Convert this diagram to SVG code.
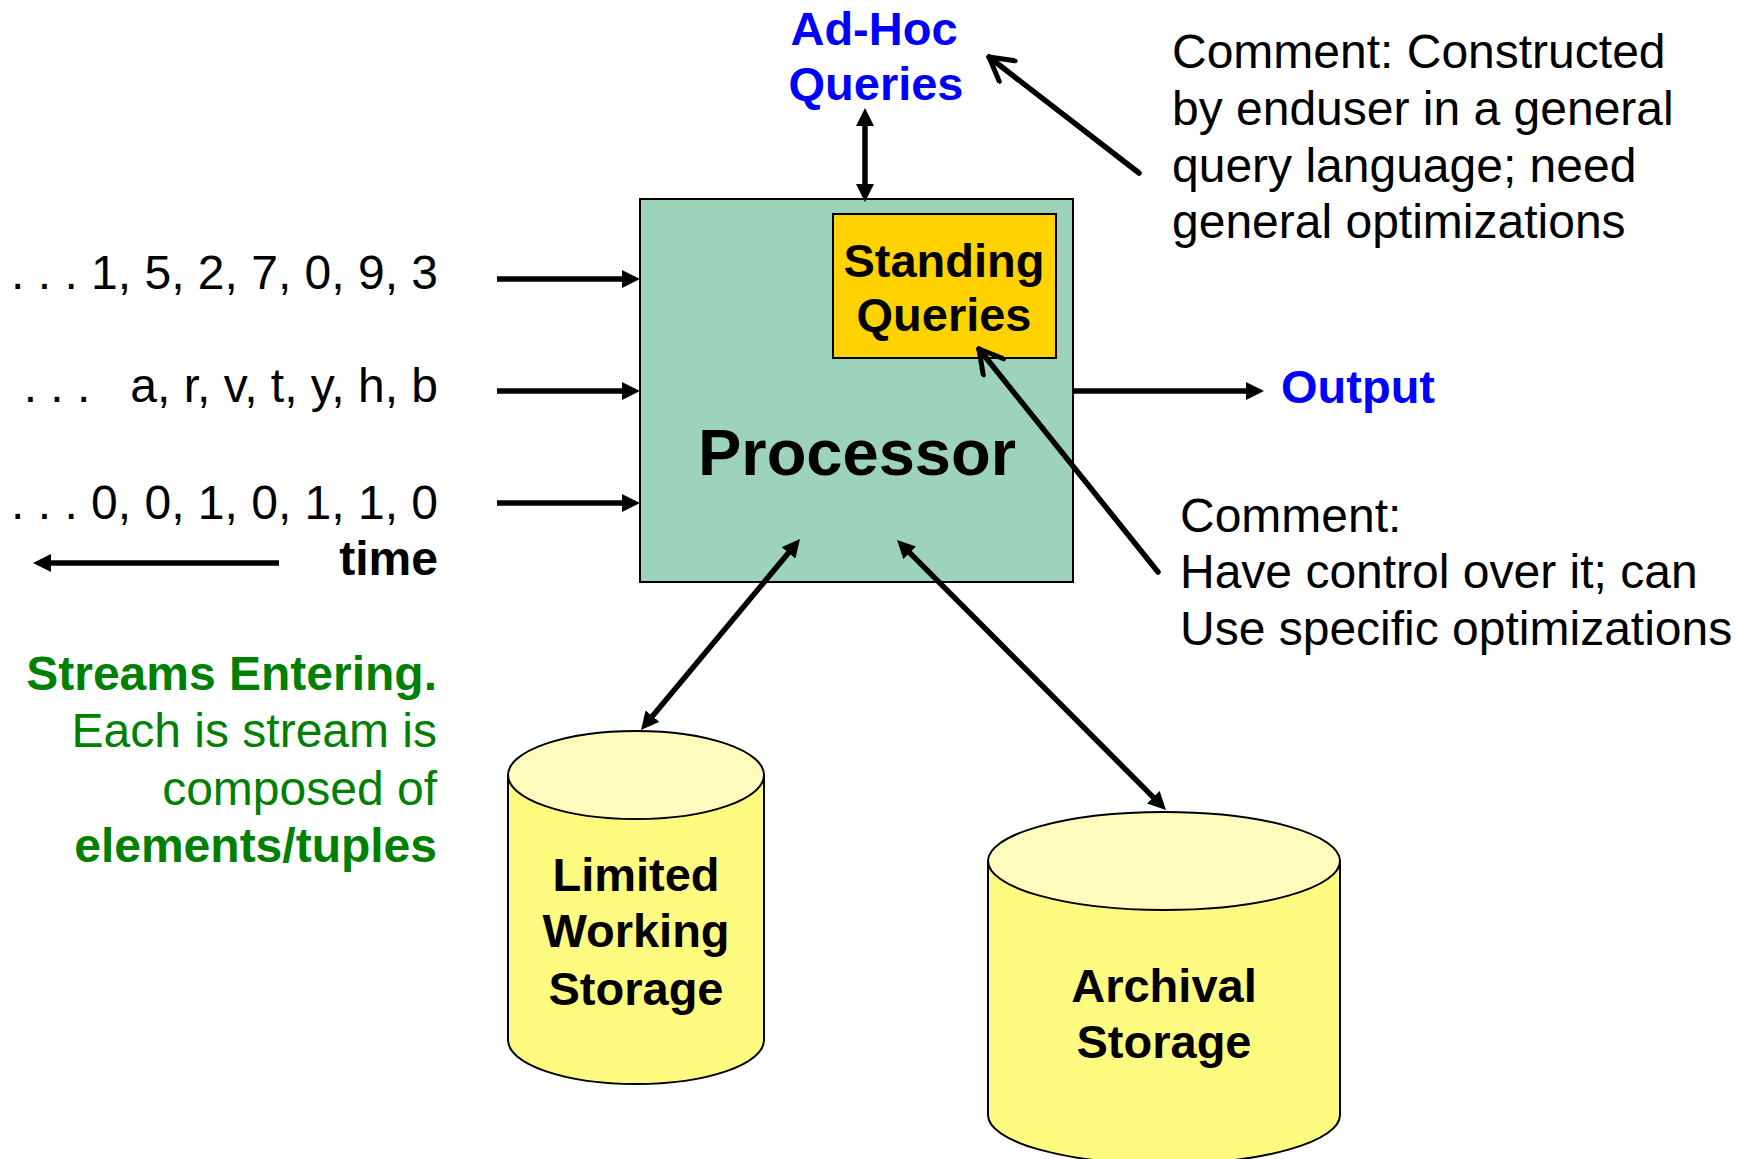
<svg xmlns="http://www.w3.org/2000/svg" width="1751" height="1159" viewBox="0 0 1751 1159">
<style>
  text { font-family: "Liberation Sans", Arial, sans-serif; }
  .b { font-weight: bold; }
  .r48 { font-size: 48px; fill: #000; }
  .blue { fill: #0000FF; font-weight: bold; font-size: 47px; }
  .green { fill: #008000; font-size: 48px; }
  .lbl { font-weight: bold; font-size: 47px; fill: #000; text-anchor: middle; }
  .conn { stroke: #000; stroke-width: 5.5; fill: none; }
  .cylbody { fill: #FFFA80; stroke: #000; stroke-width: 2; }
  .cyltop { fill: #FFFCBE; stroke: #000; stroke-width: 2; }
</style>
<defs>
  <marker id="tri" viewBox="0 0 18 18" refX="8" refY="9" markerWidth="18" markerHeight="18" markerUnits="userSpaceOnUse" orient="auto-start-reverse">
    <path d="M0,0 L18,9 L0,18 Z" fill="#000"/>
  </marker>
  <marker id="open" viewBox="0 0 30 30" refX="26" refY="15" markerWidth="30" markerHeight="30" markerUnits="userSpaceOnUse" orient="auto">
    <path d="M3,2 L26,15 L3,28" fill="none" stroke="#000" stroke-width="5" stroke-linecap="round" stroke-linejoin="round"/>
  </marker>
</defs>
<rect width="1751" height="1159" fill="#fff"/>

<g id="processor">
  <rect x="640" y="199" width="433" height="383" fill="#9DD3BB" stroke="#000" stroke-width="2"/>
  <text x="857" y="475" class="b" font-size="65" text-anchor="middle">Processor</text>
</g>

<g id="standing-queries">
  <rect x="833" y="214" width="223" height="144" fill="#FFD200" stroke="#000" stroke-width="2"/>
  <text x="944" y="277" class="lbl">Standing</text>
  <text x="944" y="331" class="lbl">Queries</text>
</g>

<g id="adhoc-queries">
  <text x="874" y="45" class="blue" text-anchor="middle">Ad-Hoc</text>
  <text x="876" y="100" class="blue" text-anchor="middle">Queries</text>
</g>

<g id="output">
  <text x="1281" y="403" class="blue">Output</text>
</g>

<g id="comment-adhoc">
  <text class="r48" x="1172" y="68">Comment: Constructed</text>
  <text class="r48" x="1172" y="125">by enduser in a general</text>
  <text class="r48" x="1172" y="182">query language; need</text>
  <text class="r48" x="1172" y="238">general optimizations</text>
</g>

<g id="comment-standing">
  <text class="r48" x="1180" y="532">Comment:</text>
  <text class="r48" x="1180" y="588">Have control over it; can</text>
  <text class="r48" x="1180" y="645">Use specific optimizations</text>
</g>

<g id="streams">
  <text class="r48" x="438" y="289" text-anchor="end">. . . 1, 5, 2, 7, 0, 9, 3</text>
  <text class="r48" x="438" y="402" text-anchor="end" xml:space="preserve">. . .   a, r, v, t, y, h, b</text>
  <text class="r48" x="438" y="519" text-anchor="end">. . . 0, 0, 1, 0, 1, 1, 0</text>
  <text class="r48 b" x="438" y="575" text-anchor="end">time</text>
</g>

<g id="streams-note">
  <text class="green b" x="437" y="690" text-anchor="end">Streams Entering.</text>
  <text class="green" x="437" y="747" text-anchor="end">Each is stream is</text>
  <text class="green" x="437" y="805" text-anchor="end">composed of</text>
  <text class="green b" x="437" y="862" text-anchor="end">elements/tuples</text>
</g>

<g id="limited-working-storage">
  <path class="cylbody" d="M508,775 L508,1040 A128,44 0 0 0 764,1040 L764,775 Z"/>
  <ellipse class="cyltop" cx="636" cy="775" rx="128" ry="44"/>
  <text x="636" y="891" class="lbl">Limited</text>
  <text x="636" y="947" class="lbl">Working</text>
  <text x="636" y="1005" class="lbl">Storage</text>
</g>

<g id="archival-storage">
  <path class="cylbody" d="M988,861 L988,1115 A176,49 0 0 0 1340,1115 L1340,861 Z"/>
  <ellipse class="cyltop" cx="1164" cy="861" rx="176" ry="49"/>
  <text x="1164" y="1002" class="lbl">Archival</text>
  <text x="1164" y="1058" class="lbl">Storage</text>
</g>

<g id="connectors">
  <line class="conn" x1="497" y1="279" x2="630" y2="279" marker-end="url(#tri)"/>
  <line class="conn" x1="497" y1="391" x2="630" y2="391" marker-end="url(#tri)"/>
  <line class="conn" x1="497" y1="503" x2="630" y2="503" marker-end="url(#tri)"/>
  <line class="conn" x1="279" y1="563" x2="43" y2="563" marker-end="url(#tri)"/>
  <line class="conn" x1="1073" y1="391" x2="1254" y2="391" marker-end="url(#tri)"/>
  <line class="conn" x1="865" y1="118" x2="865" y2="192" marker-start="url(#tri)" marker-end="url(#tri)"/>
  <line class="conn" x1="793.6" y1="546.7" x2="647.4" y2="722.3" marker-start="url(#tri)" marker-end="url(#tri)"/>
  <line class="conn" x1="904.1" y1="547.1" x2="1158.9" y2="802.9" marker-start="url(#tri)" marker-end="url(#tri)"/>
  <line class="conn" x1="1139" y1="173" x2="989" y2="57" stroke-linecap="round" marker-end="url(#open)"/>
  <line class="conn" x1="1158" y1="572" x2="979" y2="349" stroke-linecap="round" marker-end="url(#open)"/>
</g>
</svg>
